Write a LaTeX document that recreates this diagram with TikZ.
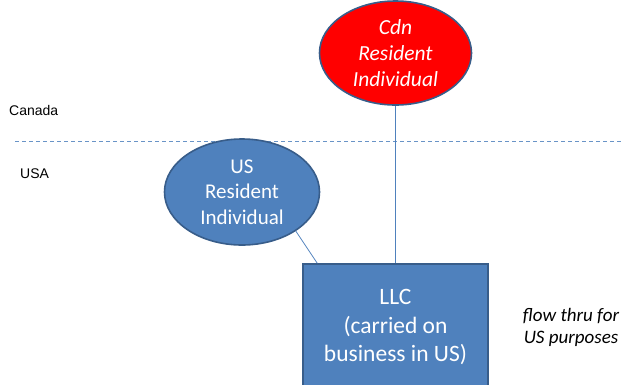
\documentclass[tikz,border=0pt]{standalone}
\usepackage{fontspec}
\setmainfont{Carlito}
\newfontfamily\labelfont{Liberation Sans}
\usetikzlibrary{shapes.geometric}
\definecolor{boxblue}{HTML}{4F81BD}
\definecolor{edgeblue}{HTML}{385D8A}
\definecolor{cdnred}{HTML}{FF0000}
\begin{document}
\begin{tikzpicture}[x=1pt,y=-1pt,
  entity/.style={draw=edgeblue, line width=1.6pt, text=white, align=center, inner sep=0pt},
  person/.style={entity, ellipse, font=\fontsize{21}{25.5}\selectfont},
  link/.style={draw=boxblue, line width=0.8pt},
  border/.style={draw=boxblue!85, dash pattern=on 4pt off 3pt, line width=0.8pt},
  region/.style={font=\labelfont\fontsize{14}{16}\selectfont, anchor=west, inner sep=0pt},
  note/.style={align=center, inner sep=0pt, font=\itshape\fontsize{19}{22}\selectfont}]
\clip (0,0) rectangle (621,384);
\fill[white] (0,0) rectangle (621,384);

% border between the two countries
\coordinate (bl) at (15,141);
\coordinate (br) at (621,141);
\draw[border] (bl) -- (br);
\node[region] (canada) at (9,110) {Canada};
\node[region] (usa) at (20,174) {USA};

% the parties
\node[person, fill=cdnred, minimum width=152pt, minimum height=104pt,
      font=\itshape\fontsize{21.5}{26}\selectfont] (cdn) at (395.5,53)
      {Cdn\\Resident\\Individual};
\node[person, fill=boxblue, minimum width=155pt, minimum height=106pt] (us) at (242,192)
      {US\\Resident\\Individual};
\node[entity, fill=boxblue, rectangle, minimum width=185pt, minimum height=126pt,
      font=\fontsize{23.5}{28.5}\selectfont] (llc) at (395.5,327)
      {LLC\\(carried on\\business in US)};

% ownership links
\draw[link] (cdn) -- (llc);
\draw[link] (us.-36) -- ([xshift=15pt]llc.north west);

\node[note] (flow) at (571,327) {flow thru for\\US purposes};
\end{tikzpicture}
\end{document}
